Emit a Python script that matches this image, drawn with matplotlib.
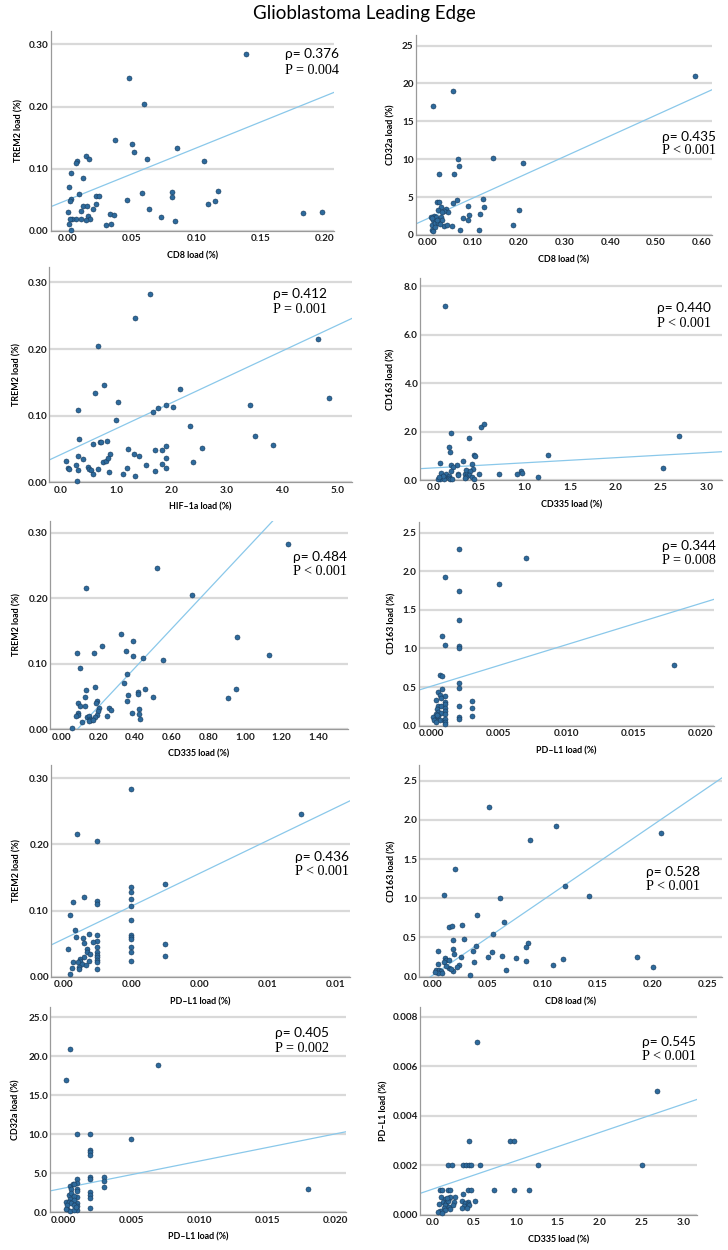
import matplotlib
matplotlib.use("Agg")
import matplotlib.pyplot as plt
from matplotlib.ticker import FormatStrFormatter, MultipleLocator

# ---------------- data ----------------
title = "Glioblastoma Leading Edge"

# Panel 1: CD8 vs TREM2
p1_x = [0.1387, 0.0476, 0.0595, 0.0367, 0.0505, 0.0515, 0.0851, 0.0616, 0.106, 0.0078, 0.0067, 0.0147,
        0.0168, 0.0031, 0.0119, 0.0010, 0.0091, 0.0225, 0.0246, 0.0577, 0.0812, 0.0812, 0.1167, 0.1149,
        0.1092, 0.0028, 0.0018, 0.0466, 0.022, 0.0119, 0.015, 0.020, 0.011, 0.0003, 0.0634, 0.0329,
        0.036, 0.0724, 0.0158, 0.0176, 0.0147, 0.007, 0.0106, 0.0036, 0.0018, 0.001, 0.0298, 0.0336,
        0.0833, 0.1827, 0.1974, 0.0031]
p1_y = [0.284, 0.246, 0.204, 0.146, 0.140, 0.127, 0.134, 0.116, 0.113, 0.112, 0.109, 0.121,
        0.116, 0.093, 0.085, 0.070, 0.060, 0.057, 0.056, 0.061, 0.062, 0.054, 0.064, 0.048,
        0.043, 0.052, 0.049, 0.050, 0.043, 0.040, 0.040, 0.035, 0.032, 0.030, 0.036, 0.027,
        0.025, 0.023, 0.024, 0.020, 0.017, 0.020, 0.020, 0.020, 0.019, 0.012, 0.010, 0.012,
        0.016, 0.029, 0.031, 0.002]

# Panel 2: CD8 vs CD32a
p2_x = [0.585, 0.0554, 0.0117, 0.067, 0.144, 0.069, 0.2085, 0.0255, 0.059, 0.0204, 0.0255, 0.065,
        0.057, 0.121, 0.123, 0.088, 0.029, 0.0416, 0.0445, 0.036, 0.023, 0.031, 0.0153, 0.0087,
        0.0124, 0.019, 0.030, 0.032, 0.092, 0.115, 0.079, 0.0897, 0.201, 0.0102, 0.0168, 0.0226,
        0.036, 0.043, 0.054, 0.027, 0.187, 0.011, 0.0117, 0.071, 0.112, 0.0204, 0.0095, 0.0175]
p2_y = [21.04, 18.97, 16.99, 10.08, 10.12, 9.15, 9.46, 8.10, 8.01, 4.40, 4.31, 4.58,
        4.18, 4.71, 3.74, 3.83, 3.74, 3.48, 3.08, 3.21, 3.35, 3.08, 2.51, 2.33,
        1.94, 2.42, 2.38, 1.98, 2.68, 2.82, 2.24, 2.02, 3.35, 1.36, 1.54, 1.63,
        1.19, 1.28, 1.23, 1.45, 1.32, 0.70, 0.48, 0.66, 0.70, 1.98, 2.20, 1.06]

# Panel 3: HIF-1a vs TREM2
p3_x = [1.608, 1.343, 0.675, 4.657, 2.151, 0.614, 0.777, 1.030, 0.307, 0.988, 1.669, 1.765,
        1.904, 2.036, 3.422, 4.855, 2.337, 3.518, 3.831, 0.331, 0.584, 0.705, 0.729, 0.831,
        0.892, 1.205, 1.331, 1.41, 1.705, 1.825, 1.898, 2.56, 1.898, 0.313, 0.392, 0.096,
        0.127, 0.139, 0.271, 0.301, 0.482, 0.506, 0.542, 0.578, 0.663, 0.765, 0.813, 0.849,
        0.861, 1.114, 1.187, 1.349, 1.53, 1.693, 1.837, 1.898, 2.392, 0.283]
p3_y = [0.283, 0.246, 0.204, 0.215, 0.1405, 0.134, 0.1465, 0.120, 0.1085, 0.0935, 0.106, 0.112,
        0.116, 0.113, 0.116, 0.127, 0.085, 0.070, 0.0565, 0.0645, 0.0575, 0.060, 0.0605, 0.062,
        0.043, 0.0505, 0.043, 0.040, 0.048, 0.049, 0.054, 0.052, 0.036, 0.040, 0.035, 0.0325,
        0.0215, 0.0205, 0.0255, 0.0185, 0.0225, 0.020, 0.018, 0.0125, 0.020, 0.030, 0.032, 0.0365,
        0.016, 0.012, 0.021, 0.010, 0.0255, 0.0175, 0.027, 0.021, 0.030, 0.002]

# Panel 4: CD335 vs CD163
p4_x = [0.124, 0.523, 0.556, 0.190, 0.395, 0.176, 0.183, 2.70, 1.259, 0.446, 0.461, 0.077,
        0.322, 0.198, 0.256, 0.42, 0.216, 0.198, 2.517, 0.432, 0.962, 0.97, 0.918, 0.724,
        0.501, 1.149, 0.088, 0.135, 0.168, 0.271, 0.274, 0.344, 0.373, 0.359, 0.402, 0.395,
        0.428, 0.362, 0.117, 0.073, 0.051, 0.117, 0.176, 0.187, 0.209, 0.102, 0.066, 0.443, 0.35]
p4_y = [7.19, 2.17, 2.30, 1.92, 1.75, 1.37, 1.15, 1.83, 1.03, 1.03, 1.00, 0.715,
        0.77, 0.62, 0.60, 0.65, 0.536, 0.37, 0.48, 0.45, 0.357, 0.30, 0.234, 0.247,
        0.247, 0.137, 0.30, 0.23, 0.165, 0.234, 0.19, 0.247, 0.30, 0.41, 0.357, 0.22,
        0.137, 0.137, 0.11, 0.055, 0.055, 0.055, 0.08, 0.04, 0.055, 0.165, 0.12, 0.055, 0.08]

# Panel 5: CD335 vs TREM2
p5_x = [1.236, 0.52, 0.131, 0.713, 0.322, 0.391, 0.222, 0.349, 0.391, 0.0836, 0.178, 0.955,
        1.129, 0.445, 0.551, 0.102, 0.356, 0.338, 0.182, 0.1345, 0.456, 0.416, 0.418, 0.36,
        0.498, 0.953, 0.907, 0.125, 0.358, 0.195, 0.189, 0.089, 0.1, 0.125, 0.202, 0.2,
        0.256, 0.269, 0.424, 0.384, 0.087, 0.089, 0.078, 0.193, 0.182, 0.249, 0.424, 0.427,
        0.136, 0.149, 0.155, 0.162, 0.147, 0.109, 0.056, 0.173]
p5_y = [0.283, 0.2456, 0.215, 0.204, 0.146, 0.134, 0.127, 0.120, 0.112, 0.116, 0.116, 0.140,
        0.113, 0.108, 0.106, 0.093, 0.085, 0.070, 0.064, 0.060, 0.061, 0.0575, 0.054, 0.052,
        0.050, 0.062, 0.048, 0.049, 0.043, 0.043, 0.040, 0.040, 0.035, 0.036, 0.0325, 0.0285,
        0.032, 0.029, 0.031, 0.0255, 0.0245, 0.022, 0.020, 0.022, 0.018, 0.021, 0.023, 0.016,
        0.018, 0.020, 0.016, 0.014, 0.013, 0.011, 0.0025, 0.014]

# Panel 6: PD-L1 vs CD163
p6_x = [0.002, 0.007, 0.001, 0.005, 0.002, 0.002, 0.0008, 0.001, 0.002, 0.002, 0.018, 0.0006,
        0.0008, 0.002, 0.002, 0.0008, 0.0005, 0.0006, 0.001, 0.0003, 0.0007, 0.003, 0.001, 0.001,
        0.0005, 0.0007, 0.002, 0.003, 0.0004, 0.001, 0.001, 0.0005, 0.0003, 0.0007, 0.001, 0.003,
        0.002, 0.002, 0.0001, 0.0004, 0.0005, 0.0002, 0.0006, 0.0009, 0.001, 0.001, 0.001, 0.0004,
        0.0003]
p6_y = [2.284, 2.167, 1.926, 1.831, 1.744, 1.373, 1.157, 1.049, 1.028, 1.010, 0.786, 0.661,
        0.648, 0.548, 0.484, 0.479, 0.44, 0.397, 0.389, 0.328, 0.363, 0.315, 0.311, 0.276,
        0.25, 0.259, 0.25, 0.233, 0.22, 0.225, 0.19, 0.177, 0.155, 0.16, 0.151, 0.121,
        0.108, 0.086, 0.112, 0.108, 0.125, 0.073, 0.078, 0.078, 0.082, 0.052, 0.022, 0.138,
        0.043]

# Panel 7: PD-L1 vs TREM2
p7_x = [0.002, 0.007, 0.0004, 0.001, 0.003, 0.002, 0.002, 0.002, 0.002, 0.002, 0.002, 0.002,
        0.002, 0.002, 0.002, 0.002, 0.003, 0.003, 0.001, 0.001, 0.001, 0.001, 0.001, 0.001,
        0.001, 0.001, 0.001, 0.001, 0.001, 0.0006, 0.0003, 0.0002, 0.00035, 0.00037, 0.00076, 0.00057,
        0.0006, 0.00087, 0.00015, 0.00069, 0.0007, 0.0008, 0.0006, 0.00048, 0.0005, 0.00076, 0.0003, 0.00044,
        0.00054, 0.00068, 0.00045, 0.00046, 0.00025, 0.00019]
p7_y = [0.2834, 0.2466, 0.2158, 0.2047, 0.1407, 0.1351, 0.1276, 0.117, 0.1069, 0.0862, 0.0625, 0.0595,
        0.0565, 0.0444, 0.0373, 0.0242, 0.0489, 0.0318, 0.114, 0.1094, 0.0625, 0.0545, 0.0444, 0.0373,
        0.0328, 0.0292, 0.0252, 0.0217, 0.0111, 0.121, 0.1124, 0.0938, 0.0711, 0.0605, 0.065, 0.058,
        0.0504, 0.0529, 0.0413, 0.0413, 0.0378, 0.0338, 0.0302, 0.0267, 0.0242, 0.0237, 0.0217, 0.0217,
        0.0197, 0.0182, 0.0141, 0.0121, 0.0131, 0.0035]

# Panel 8: CD8 vs CD163
p8_x = [0.0515, 0.1127, 0.0891, 0.2076, 0.0209, 0.1206, 0.0109, 0.0612, 0.1427, 0.0409, 0.0655, 0.0155,
        0.0179, 0.0267, 0.0555, 0.0191, 0.0288, 0.087, 0.0855, 0.0397, 0.0052, 0.0188, 0.02, 0.0367,
        0.0545, 0.0506, 0.0636, 0.0261, 0.0764, 0.1191, 0.1858, 0.0115, 0.0124, 0.0148, 0.0379, 0.0855,
        0.0052, 0.0103, 0.0239, 0.0224, 0.11, 0.2009, 0.0155, 0.0127, 0.0033, 0.0064, 0.0076, 0.0055,
        0.0088, 0.0191, 0.0673, 0.0339, 0.0167, 0.0024]
p8_y = [2.164, 1.925, 1.742, 1.827, 1.371, 1.154, 1.043, 1.009, 1.031, 0.784, 0.698, 0.639,
        0.652, 0.656, 0.545, 0.473, 0.481, 0.434, 0.383, 0.392, 0.324, 0.353, 0.285, 0.324,
        0.315, 0.255, 0.26, 0.251, 0.238, 0.23, 0.251, 0.234, 0.209, 0.213, 0.183, 0.196,
        0.166, 0.187, 0.149, 0.124, 0.145, 0.119, 0.111, 0.136, 0.089, 0.085, 0.068, 0.051,
        0.051, 0.072, 0.085, 0.017, 0.098, 0.064]

# Panel 9: PD-L1 vs CD32a
p9_x = [0.0005, 0.0002, 0.007, 0.001, 0.002, 0.005, 0.002, 0.002, 0.002, 0.002, 0.002, 0.003,
        0.003, 0.003, 0.002, 0.002, 0.002, 0.002, 0.018, 0.001, 0.001, 0.001, 0.001, 0.001,
        0.001, 0.001, 0.001, 0.0005, 0.0007, 0.0006, 0.0008, 0.0004, 0.0006, 0.0008, 0.0005, 0.0008,
        0.0002, 0.0004, 0.0006, 0.0008, 0.0003, 0.0005, 0.0008, 0.0009, 0.0003, 0.0002]
p9_y = [20.93, 16.91, 18.88, 9.97, 9.97, 9.33, 8.0, 7.7, 7.36, 4.49, 4.28, 4.58,
        4.07, 3.25, 2.57, 2.23, 1.88, 0.51, 3.0, 4.28, 3.81, 3.04, 2.7, 2.01,
        1.24, 0.86, 0.3, 3.42, 3.6, 2.95, 3.68, 2.27, 2.44, 2.1, 1.76, 1.58,
        1.33, 1.28, 1.2, 0.9, 0.47, 0.21, 0.26, 0.64, 0.98, 0.43]

# Panel 10: CD335 vs PD-L1
p10_x = [0.538, 2.689, 2.51, 1.259, 0.438, 0.924, 0.98, 0.183, 0.231, 0.367, 0.402, 0.434,
         0.466, 0.566, 0.096, 0.116, 0.183, 0.211, 0.426, 0.458, 0.733, 0.976, 1.151, 0.1,
         0.271, 0.37, 0.2, 0.151, 0.127, 0.215, 0.167, 0.191, 0.263, 0.355, 0.422, 0.51,
         0.084, 0.155, 0.199, 0.251, 0.394, 0.43, 0.374, 0.442, 0.355, 0.41, 0.135, 0.207,
         0.151, 0.096, 0.068, 0.12, 0.179]
p10_y = [0.007, 0.005, 0.002, 0.002, 0.003, 0.003, 0.003, 0.002, 0.002, 0.002, 0.002, 0.002,
         0.002, 0.002, 0.001, 0.001, 0.001, 0.001, 0.001, 0.001, 0.001, 0.001, 0.001, 0.00074,
         0.00074, 0.00083, 0.00067, 0.00063, 0.00054, 0.00071, 0.0005, 0.00055, 0.00054, 0.00056, 0.00054, 0.00056,
         0.00044, 0.00042, 0.00034, 0.00042, 0.00047, 0.00046, 0.00038, 0.0004, 0.0003, 0.0003, 0.00028, 0.00026,
         0.0002, 0.00015, 0.00013, 0.0001, 0.00069]

# fit lines (intercept, slope)
fit_intercepts = [0.0498, 2.15, 0.0417, 0.498, -0.0254, 0.512, 0.0568, 0.0144, 3.08, 0.00104]
fit_slopes = [0.836, 27.34, 0.0388, 0.211, 0.298, 53.5, 24.8, 9.58, 348.0, 0.001147]

rho_labels = ["ρ= 0.376", "ρ= 0.435", "ρ= 0.412", "ρ= 0.440", "ρ= 0.484",
              "ρ= 0.344", "ρ= 0.436", "ρ= 0.528", "ρ= 0.405", "ρ= 0.545"]
p_labels = ["P = 0.004", "P < 0.001", "P = 0.001", "P < 0.001", "P < 0.001",
            "P = 0.008", "P < 0.001", "P < 0.001", "P = 0.002", "P < 0.001"]
x_labels = ["CD8 load (%)", "CD8 load (%)", "HIF–1a load (%)", "CD335 load (%)", "CD335 load (%)",
            "PD–L1 load (%)", "PD–L1 load (%)", "CD8 load (%)", "PD–L1 load (%)", "CD335 load (%)"]
y_labels = ["TREM2 load (%)", "CD32a load (%)", "TREM2 load (%)", "CD163 load (%)", "TREM2 load (%)",
            "CD163 load (%)", "TREM2 load (%)", "CD163 load (%)", "CD32a load (%)", "PD–L1 load (%)"]

xs = [p1_x, p2_x, p3_x, p4_x, p5_x, p6_x, p7_x, p8_x, p9_x, p10_x]
ys = [p1_y, p2_y, p3_y, p4_y, p5_y, p6_y, p7_y, p8_y, p9_y, p10_y]

# ---------------- layout (pixels) ----------------
W, H = 728, 1250
# left, right, top, bottom in px
boxes = [(50.7, 334, 30.7, 231), (415.7, 711.7, 35, 235),
         (49.3, 352, 266.7, 482.3), (420, 722.3, 278.3, 480),
         (50, 347.7, 520.7, 729.3), (419, 714, 521.7, 725.7),
         (51, 350, 765, 976.7), (419.3, 721.7, 765, 976.7),
         (50, 346, 1007, 1212.3), (420, 696.7, 1007, 1215)]
xlims = [(-0.0129, 0.207), (-0.0255, 0.622), (-0.21, 5.265), (-0.146, 3.172), (-0.0636, 1.56),
         (-0.00094, 0.021), (-0.00036, 0.00843), (-0.0118, 0.263), (-0.00098, 0.0208), (-0.147, 3.159)]
ylims = [(0, 0.322), (0, 26.4), (0, 0.3235), (0, 8.32), (0, 0.318),
         (0, 2.64), (0, 0.32), (0, 2.70), (0, 26.3), (0, 0.0084)]
xsteps = [0.05, 0.1, 1.0, 0.5, 0.2, 0.005, 0.002, 0.05, 0.005, 0.5]
ysteps = [0.1, 5, 0.1, 2.0, 0.1, 0.5, 0.1, 0.5, 5, 0.002]
xfmts = ['%.2f', '%.2f', '%.1f', '%.1f', '%.2f', '%.3f', '%.2f', '%.2f', '%.3f', '%.1f']
yfmts = ['%.2f', '%d', '%.2f', '%.1f', '%.2f', '%.1f', '%.2f', '%.1f', '%.1f', '%.3f']
ann_pos = [(285, 54, 70), (661.7, 136.7, 151), (272.7, 294, 309.3), (657.3, 308.3, 323.3),
           (292.7, 556.7, 571.7), (661.7, 545.7, 560.7), (295, 856.7, 871.7), (645.7, 871.7, 886),
           (275, 1033.3, 1048.3), (642.3, 1041.7, 1056)]
ylab_x = [19, 391, 17, 391, 17, 392, 17, 392, 16, 384]

fig = plt.figure(figsize=(W / 100, H / 100), dpi=100)
fig.patch.set_facecolor('white')

fig.text(364 / W, 1 - 13 / H, title, ha='center', va='center', fontsize=13.5,
         family=['Lato', 'DejaVu Sans'])

tick_family = ['Lato', 'DejaVu Sans']
lab_font = dict(family=['Lato', 'DejaVu Sans'], weight='bold', size=6.4)

for i in range(10):
    l, r, t, b = boxes[i]
    ax = fig.add_axes([l / W, 1 - b / H, (r - l) / W, (b - t) / H])
    ax.set_xlim(*xlims[i])
    ax.set_ylim(*ylims[i])
    ax.xaxis.set_major_locator(MultipleLocator(xsteps[i]))
    ax.yaxis.set_major_locator(MultipleLocator(ysteps[i]))
    ax.xaxis.set_major_formatter(FormatStrFormatter(xfmts[i]))
    ax.yaxis.set_major_formatter(FormatStrFormatter(yfmts[i]))
    ax.tick_params(length=0, pad=2.5, labelcolor='#1e1e1e')
    ax.tick_params(axis='y', pad=1.5)
    for lab in ax.get_xticklabels() + ax.get_yticklabels():
        lab.set_fontfamily(tick_family)
        lab.set_fontweight('bold')
        lab.set_fontsize(7.2)
    ax.grid(axis='y', color='#d9d9d9', linewidth=1.6, zorder=0)
    ax.set_axisbelow(True)
    for s in ['top', 'right']:
        ax.spines[s].set_visible(False)
    for s in ['left', 'bottom']:
        ax.spines[s].set_color('#9a9a9a')
        ax.spines[s].set_linewidth(0.9)
    # regression line
    x0, x1 = xlims[i]
    ax.plot([x0, x1], [fit_intercepts[i] + fit_slopes[i] * x0, fit_intercepts[i] + fit_slopes[i] * x1],
            color='#8ac8ea', linewidth=0.9, zorder=2)
    ax.scatter(xs[i], ys[i], s=13, color='#2d6a9c', edgecolors='#1a3b5c', linewidths=0.4,
               zorder=3, clip_on=False)
    # labels
    fig.text((l + r) / 2 / W, 1 - (b + 25) / H, x_labels[i], ha='center', va='center', **lab_font)
    fig.text(ylab_x[i] / W, 1 - (t + b) / 2 / H, y_labels[i], ha='center', va='center',
             rotation=90, **lab_font)
    ax_x, y1, y2 = ann_pos[i]
    fig.text(ax_x / W, 1 - y1 / H, rho_labels[i], ha='left', va='center', fontsize=9.8,
             family=['Lato', 'Liberation Serif', 'DejaVu Sans'])
    fig.text(ax_x / W, 1 - y2 / H, p_labels[i], ha='left', va='center', fontsize=10.2,
             family=['Liberation Serif', 'DejaVu Serif'])

fig.savefig('out.png', dpi=100, facecolor='white')
